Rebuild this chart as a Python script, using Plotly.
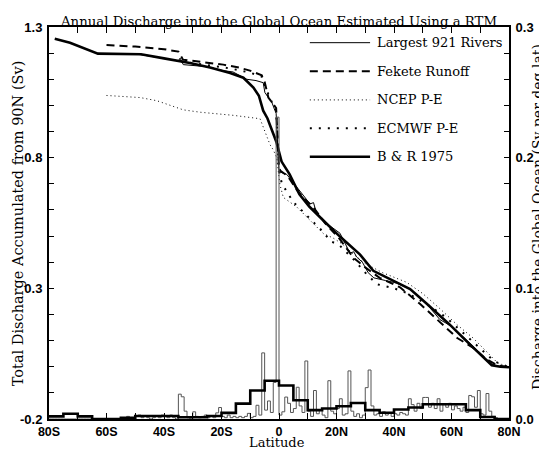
import plotly.graph_objects as go

# ---------------- data ----------------
# Largest 921 rivers: discharge per 1-degree latitude bin (Sv per deg lat), left bin edges -80..79
rivers_bin_lat = list(range(-80, 80))
rivers_bin_val = [
    0, 0, 0, 0, 0, 0, 0, 0, 0, 0,                                     # -80..-71
    0, 0, 0, 0, 0, 0, 0, 0, 0, 0,                                     # -70..-61
    0, 0, 0, 0, 0, 0.001, 0.001, 0.002, 0.001, 0.0,                   # -60..-51
    0.002, 0.003, 0.001, 0.002, 0.001, 0.0, 0.001, 0.002, 0.001, 0.003,   # -50..-41
    0.002, 0.001, 0.003, 0.001, 0.0, 0.019, 0.017, 0.006, 0.001, 0.0,     # -40..-31
    0.0055, 0.002, 0.001, 0.002, 0.003, 0.001, 0.002, 0.001, 0.0047, 0.0088,  # -30..-21
    0.002, 0.001, 0.003, 0.001, 0.002, 0.001, 0.002, 0.001, 0.002, 0.0043,    # -20..-11
    0.001, 0.002, 0.0105, 0.003, 0.0506, 0.0068, 0.0138, 0.005, 0.028, 0.231,  # -10..-1
    0.003, 0.0055, 0.0168, 0.012, 0.005, 0.008, 0.0243, 0.010, 0.005, 0.0444,  # 0..9
    0.006, 0.002, 0.0218, 0.004, 0.0068, 0.003, 0.001, 0.0293, 0.006, 0.004,   # 10..19
    0.008, 0.0155, 0.003, 0.004, 0.0368, 0.006, 0.002, 0.004, 0.001, 0.003,    # 20..29
    0.024, 0.0375, 0.010, 0.003, 0.004, 0.002, 0.0055, 0.003, 0.005, 0.002,    # 30..39
    0.004, 0.003, 0.005, 0.004, 0.003, 0.0155, 0.011, 0.006, 0.012, 0.008,     # 40..49
    0.0165, 0.0165, 0.009, 0.012, 0.008, 0.0155, 0.006, 0.011, 0.009, 0.012,   # 50..59
    0.007, 0.010, 0.008, 0.006, 0.009, 0.005, 0.018, 0.017, 0.009, 0.0218,     # 60..69
    0.004, 0.003, 0.0195, 0.006, 0.002, 0.001, 0.0, 0.0, 0.0, 0.0,             # 70..79
]

# B & R 1975: discharge per 5-degree bin (Sv per deg lat), left bin edges
br_bin_lat = list(range(-80, 80, 5))
br_bin_val = [0.002, 0.004, 0.002, 0.0, 0.0, 0.001, 0.0023, 0.0023,
              0.0023, 0.0013, 0.0013, 0.0023, 0.0047, 0.0118, 0.0218, 0.0293,
              0.0256, 0.0143, 0.0068, 0.008, 0.0098, 0.0123, 0.0068, 0.0048,
              0.0073, 0.0088, 0.0113, 0.0113, 0.0113, 0.0068, 0.0015, 0.0]

# Accumulated discharge from 90N (Sv)
br_lat = [-78, -72.7, -63, -55, -48, -40, -31, -24, -17, -12.4, -8.9, -7, -5.5, -4,
          -2.5, -0.9, 0.9, 3.7, 7.1, 10.6, 16.5, 21.2, 28.2, 32.8, 40.9, 45.6, 51.4,
          59.5, 65.3, 71.1, 74, 77, 80]
br_acc = [1.255, 1.24, 1.198, 1.198, 1.196, 1.18, 1.162, 1.145, 1.124, 1.106, 1.068,
          1.037, 0.98, 0.95, 0.91, 0.86, 0.785, 0.736, 0.66, 0.612, 0.548, 0.498,
          0.429, 0.367, 0.323, 0.297, 0.241, 0.160, 0.097, 0.034, 0.006, 0.0, -0.002]

rivers_lat = [-60, -50, -40, -35, -34.4, -33.3, -25, -19.4, -16, -14, -11.2, -8, -5.5,
              -4.9, -2.5, -1.4, -1, 0, 0.35, 2.7, 6.2, 9.0, 10.8, 12, 12.6, 13.1, 16.6,
              21.2, 24.7, 26, 27, 29, 31, 33, 37, 41, 46, 51, 56, 60, 65, 69, 72, 74, 77, 80]
rivers_acc = [1.198, 1.197, 1.18, 1.17, 1.181, 1.156, 1.148, 1.133, 1.128, 1.115, 1.10,
              1.095, 1.087, 1.049, 1.012, 0.98, 0.97, 0.745, 0.745, 0.736, 0.686, 0.648,
              0.623, 0.628, 0.605, 0.586, 0.548, 0.511, 0.435, 0.44, 0.42, 0.40, 0.36,
              0.34, 0.33, 0.32, 0.295, 0.245, 0.18, 0.155, 0.105, 0.06, 0.03, 0.01, 0.0, -0.002]

fekete_lat = [-60, -50, -40, -35, -33.4, -25, -19.4, -14, -10.1, -6, -5, -3.7, -1.4, -1,
              0, 0.5, 3, 6, 9, 12, 16, 21, 25.9, 30, 35, 42.1, 49, 56, 62, 67.6, 72, 76, 80]
fekete_acc = [1.231, 1.225, 1.215, 1.206, 1.175, 1.165, 1.156, 1.145, 1.133, 1.115, 1.09,
              1.03, 0.993, 0.99, 0.76, 0.75, 0.73, 0.68, 0.64, 0.61, 0.55, 0.49, 0.417,
              0.38, 0.34, 0.304, 0.241, 0.172, 0.11, 0.072, 0.03, 0.005, -0.002]

ncep_lat = [-60, -48.3, -42.5, -33.3, -27.5, -15.9, -6.6, -4.9, -3.1, -2, -0.8, 0.3, 1.5,
            6.2, 10.8, 15.4, 18.9, 22, 26, 30, 36, 44.4, 50, 56, 62, 67.6, 72, 76, 80]
ncep_acc = [1.038, 1.030, 1.018, 0.983, 0.974, 0.962, 0.949, 0.899, 0.849, 0.83, 0.80,
            0.698, 0.648, 0.611, 0.56, 0.51, 0.492, 0.47, 0.43, 0.395, 0.36, 0.323, 0.28,
            0.222, 0.16, 0.109, 0.06, 0.015, -0.002]

ecmwf_lat = [-34, -25, -19, -14, -10, -6, -4, -2, -1, 0, 1, 5, 10, 15, 18, 21, 26, 30, 34,
             40, 45, 52, 58, 64, 70, 75, 80]
ecmwf_acc = [1.168, 1.155, 1.145, 1.135, 1.125, 1.11, 1.05, 1.0, 0.98, 0.75, 0.70, 0.63,
             0.575, 0.52, 0.48, 0.465, 0.41, 0.36, 0.316, 0.30, 0.28, 0.235, 0.19, 0.13,
             0.07, 0.02, -0.002]

x_tick_vals = [-80, -60, -40, -20, 0, 20, 40, 60, 80]
x_tick_text = ["80S", "60S", "40S", "20S", "0", "20N", "40N", "60N", "80N"]
y_tick_vals = [-0.2, 0.3, 0.8, 1.3]
y_tick_text = ["-0.2", "0.3", "0.8", "1.3"]
y2_tick_vals = [0.0, 0.1, 0.2, 0.3]
y2_tick_text = ["0.0", "0.1", "0.2", "0.3"]

legend_names = ["Largest 921 Rivers", "Fekete Runoff", "NCEP P-E", "ECMWF P-E", "B & R 1975"]

# ---------------- figure ----------------
SERIF = "DejaVu Serif"
SANS = "Liberation Sans"

fig = go.Figure()

# histograms (right axis)
fig.add_trace(go.Scatter(x=rivers_bin_lat + [80], y=rivers_bin_val + [rivers_bin_val[-1]],
                         mode="lines", line=dict(shape="hv", color="#555555", width=1),
                         yaxis="y2", showlegend=False, hoverinfo="skip"))
fig.add_trace(go.Scatter(x=br_bin_lat + [80], y=br_bin_val + [br_bin_val[-1]],
                         mode="lines", line=dict(shape="hv", color="black", width=2.6),
                         yaxis="y2", showlegend=False, hoverinfo="skip"))

styles = [
    (rivers_lat, rivers_acc, dict(color="black", width=1)),
    (fekete_lat, fekete_acc, dict(color="black", width=2, dash="8px,5px")),
    (ncep_lat, ncep_acc, dict(color="black", width=1, dash="1px,3px")),
    (ecmwf_lat, ecmwf_acc, dict(color="black", width=2, dash="2px,7px")),
    (br_lat, br_acc, dict(color="black", width=2.6)),
]
for (lx, ly, ls), nm in zip(styles, legend_names):
    fig.add_trace(go.Scatter(x=lx, y=ly, mode="lines", line=ls, name=nm,
                             showlegend=False, hoverinfo="skip"))

# manual legend in the upper right of the plot
leg_y = [0.960, 0.887, 0.814, 0.742, 0.669]
for (lx, ly, ls), nm, yy in zip(styles, legend_names, leg_y):
    fig.add_shape(type="line", xref="paper", yref="paper", x0=0.567, x1=0.698,
                  y0=yy, y1=yy, line=ls)
    fig.add_annotation(xref="paper", yref="paper", x=0.708, y=yy, text=nm,
                       showarrow=False, xanchor="left", yanchor="middle",
                       font=dict(family=SERIF, size=13, color="black"))

fig.add_annotation(xref="paper", yref="paper", x=0.498, y=1.0, yshift=6,
                   text="Annual Discharge into the Global Ocean Estimated Using a RTM",
                   showarrow=False, xanchor="center", yanchor="middle",
                   font=dict(family=SERIF, size=13.3, color="black"))
fig.add_annotation(xref="paper", yref="paper", x=-0.067, y=0.5, textangle=-90,
                   text="Total Discharge Accumulated from 90N (Sv)", showarrow=False,
                   xanchor="center", yanchor="middle",
                   font=dict(family=SERIF, size=14.5, color="black"))
fig.add_annotation(xref="paper", yref="paper", x=1.063, y=0.515, textangle=-90,
                   text="Discharge into the Global Ocean (Sv per deg lat)", showarrow=False,
                   xanchor="center", yanchor="middle",
                   font=dict(family=SERIF, size=14, color="black"))
fig.add_annotation(xref="paper", yref="paper", x=0.496, y=0, yshift=-23,
                   text="Latitude", showarrow=False, xanchor="center", yanchor="middle",
                   borderpad=0, font=dict(family=SERIF, size=13, color="black"))

tickfont = dict(family=SANS, size=13, color="black", weight="bold")
xtickfont = dict(family=SANS, size=12.5, color="black", weight="bold")
# page body has an 8px margin, so the figure is made 8px smaller and shifted
fig.update_layout(
    width=539, height=443,
    margin=dict(l=41, r=38, t=12, b=32),
    paper_bgcolor="white", plot_bgcolor="white",
    showlegend=False,
    xaxis=dict(range=[-80, 80], tickvals=x_tick_vals, ticktext=x_tick_text,
               ticks="inside", ticklen=6, tickwidth=1, tickcolor="black",
               minor=dict(tickvals=list(range(-70, 80, 20)), ticks="inside", ticklen=6,
                          tickcolor="black"),
               showline=True, linewidth=2, linecolor="black", mirror="ticks",
               showgrid=False, zeroline=False, tickfont=xtickfont, ticklabelstandoff=0),
    yaxis=dict(range=[-0.2, 1.3], tickvals=y_tick_vals, ticktext=y_tick_text,
               ticks="inside", ticklen=5, tickwidth=1, tickcolor="black",
               minor=dict(dtick=0.1, tick0=-0.2, ticks="inside", ticklen=5,
                          tickcolor="black"),
               showline=True, linewidth=2, linecolor="black",
               showgrid=False, zeroline=False, tickfont=tickfont, ticklabelstandoff=2),
    yaxis2=dict(range=[0, 0.3], overlaying="y", side="right",
                tickvals=y2_tick_vals, ticktext=y2_tick_text,
                ticks="inside", ticklen=5, tickwidth=1, tickcolor="black",
                minor=dict(dtick=0.02, tick0=0, ticks="inside", ticklen=5,
                           tickcolor="black"),
                showline=True, linewidth=2, linecolor="black",
                showgrid=False, zeroline=False, tickfont=tickfont, ticklabelstandoff=2),
)

fig.write_html("out.html")
